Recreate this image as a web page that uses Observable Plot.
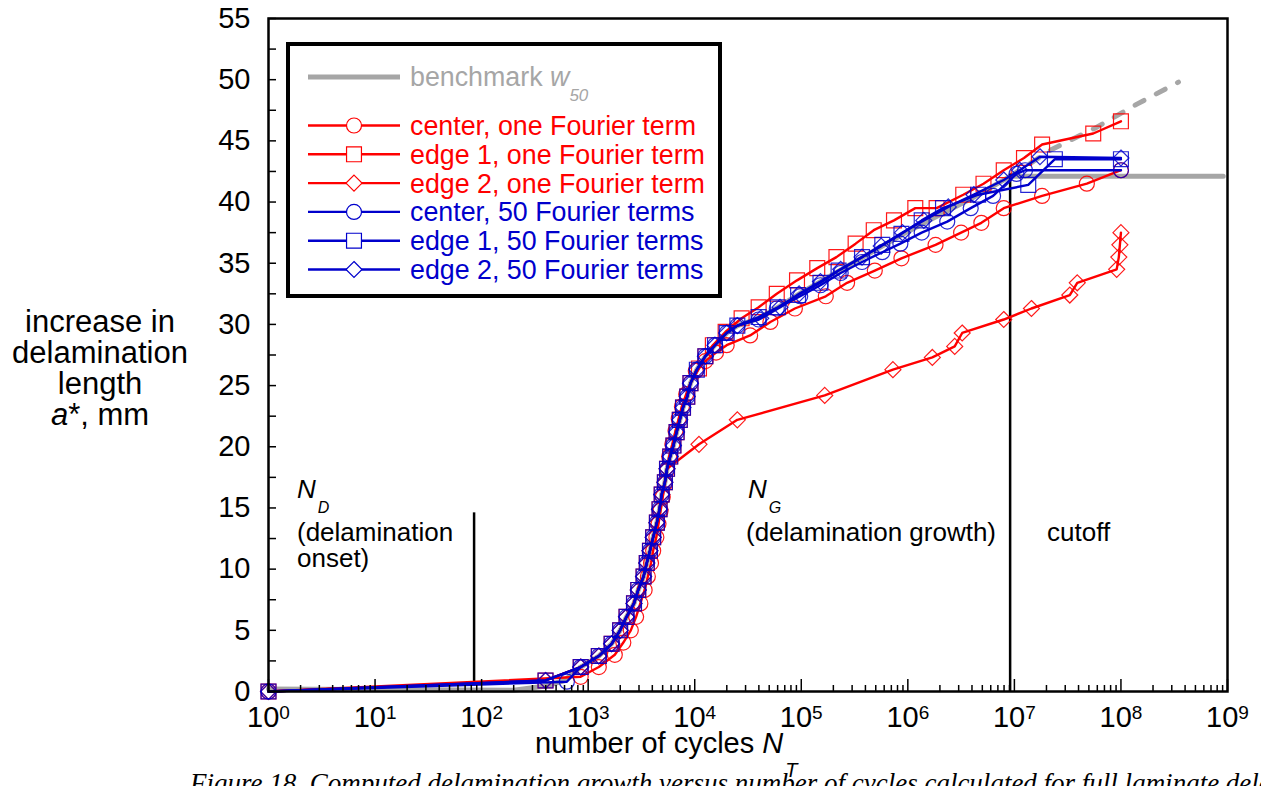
<!DOCTYPE html>
<html><head><meta charset="utf-8">
<script src="https://cdn.jsdelivr.net/npm/d3@7"></script>
<script src="https://cdn.jsdelivr.net/npm/@observablehq/plot@0.6"></script>
<style>
html,body{margin:0;padding:0;background:#fff;}
#chart{position:relative;width:1261px;height:786px;overflow:hidden;background:#fff;}
</style></head><body><div id="chart"></div>
<script>
// ---------- data (number of cycles N, increase in delamination length a*, mm) ----------
// common steep part of the curves
const steepN = [1, 398, 851, 1259, 1660, 1995, 2291, 2692, 2951, 3311, 3548, 3802, 4074, 4416, 4677, 4898, 5248, 5495, 5888, 6310, 6761, 7244, 7762, 8511, 9120, 10470, 12589, 15488, 19953, 25119];
const steepA = [0, 0.9, 2.0, 2.9, 3.9, 5.0, 6.1, 7.2, 8.3, 9.4, 10.5, 11.5, 12.6, 13.8, 14.9, 16.1, 17.1, 18.2, 19.2, 20.1, 21.2, 22.2, 23.2, 24.1, 25.2, 26.3, 27.4, 28.3, 29.3, 29.9];

// benchmark w50
const benchN = [1, 200, 400, 600, 851, 1259, 1660, 1995, 2291, 2692, 2951, 3311, 3548, 3802, 4074, 4416, 4677, 4898, 5248, 5495, 5888, 6310, 6761, 7244, 7762, 8511, 9120, 10470, 12589, 15488, 19953, 25119, 39811, 63096, 100000, 158489, 251189, 398107, 630957, 1000000, 1584893, 2511886, 3981072, 6309573, 9120108, 912010839];
const benchA = [0.2, 0.1, 0.45, 0.9, 2.0, 2.9, 3.9, 5.0, 6.1, 7.2, 8.3, 9.4, 10.5, 11.5, 12.6, 13.8, 14.9, 16.1, 17.1, 18.2, 19.2, 20.1, 21.2, 22.2, 23.2, 24.1, 25.2, 26.3, 27.4, 28.3, 29.3, 29.9, 30.5, 31.5, 32.6, 33.6, 34.6, 35.6, 36.6, 37.6, 38.5, 39.4, 40.3, 41.3, 42.1, 42.1];
const benchDashN = [9120108, 22387211, 58884366, 141253754, 346736850];
const benchDashA = [42.1, 44.3, 46.1, 48.0, 49.8];

// center, one Fourier term
const centerOneN = [1, 851, 1259, 1778, 2138, 2512, 2818, 3090, 3388, 3631, 3890, 4074, 4365, 4571, 4786, 5012, 5248, 5495, 5754, 6166, 6607, 7079, 7586, 8318, 9120, 10233, 12589, 15849, 19953, 33113, 51286, 87096, 169824, 269153, 489779, 870964, 1819701, 3162278, 4897788, 7943282, 18197009, 47863009, 100000000];
const centerOneA = [0, 1.2, 2.0, 3.0, 4.0, 5.0, 6.1, 7.2, 8.3, 9.4, 10.5, 11.5, 12.6, 13.7, 14.8, 15.9, 17.0, 18.1, 19.2, 20.2, 21.3, 22.3, 23.3, 24.3, 25.2, 26.2, 27.0, 27.7, 28.3, 29.1, 30.2, 31.3, 32.3, 33.4, 34.4, 35.4, 36.5, 37.5, 38.3, 39.5, 40.5, 41.5, 42.6];

// edge 1, one Fourier term (after the steep part)
const edge1OneN = [10965, 12589, 14791, 19498, 27542, 39811, 58884, 91201, 141254, 213796, 323594, 478630, 741310, 1174898, 1862087, 3311311, 5128614, 7943282, 12302688, 18197009, 54954087, 100000000];
const edge1OneA = [26.4, 27.4, 28.3, 29.4, 30.5, 31.4, 32.5, 33.6, 34.6, 35.5, 36.6, 37.7, 38.5, 39.5, 39.5, 40.6, 41.5, 42.6, 43.6, 44.7, 45.6, 46.6];

// edge 2, one Fourier term (after the steep part)
const edge2OneN = [10965, 25119, 165959, 724436, 1698244, 2754229, 3235937, 7943282, 14454398, 33113112, 38904514, 91201084, 95499259, 97723722, 100000000];
const edge2OneA = [20.2, 22.2, 24.2, 26.3, 27.3, 28.2, 29.3, 30.4, 31.3, 32.4, 33.4, 34.5, 35.5, 36.5, 37.5];

// center, 50 Fourier terms
const center50N = [1, 631, 851, 1259, 1660, 1995, 2291, 2692, 2951, 3311, 3548, 3802, 4074, 4416, 4677, 4898, 5248, 5495, 5888, 6310, 6761, 7244, 7762, 8511, 9120, 10470, 12589, 15488, 19953, 25119, 39811, 58884, 97724, 151356, 234423, 371535, 575440, 851138, 1348963, 2344229, 3890451, 6309573, 10471285, 12589254, 100000000];
const center50A = [0, 0.8, 2.0, 2.9, 3.9, 5.0, 6.1, 7.2, 8.3, 9.4, 10.5, 11.5, 12.6, 13.8, 14.9, 16.1, 17.1, 18.2, 19.2, 20.1, 21.2, 22.2, 23.2, 24.1, 25.2, 26.3, 27.4, 28.3, 29.3, 29.9, 30.4, 31.3, 32.3, 33.2, 34.2, 35.1, 35.9, 36.6, 37.5, 38.4, 39.5, 40.5, 42.3, 42.6, 42.6];

// edge 1, 50 Fourier terms (after the steep part)
const edge150N = [39811, 60256, 93325, 151356, 223872, 371535, 575440, 870964, 1348963, 2137962, 4570882, 13489629, 23988329, 100000000];
const edge150A = [30.6, 31.4, 32.4, 33.4, 34.4, 35.5, 36.5, 37.4, 38.5, 39.5, 40.6, 41.4, 43.5, 43.5];

// edge 2, 50 Fourier terms (after the steep part)
const edge250N = [41687, 63096, 95499, 151356, 234423, 371535, 562341, 891251, 1412538, 2398833, 4168694, 7943282, 11220185, 17378008, 100000000];
const edge250A = [30.5, 31.4, 32.5, 33.5, 34.5, 35.5, 36.4, 37.5, 38.5, 39.6, 40.6, 41.8, 42.6, 43.7, 43.6];

// annotation rules (N_D onset and cutoff)
const ruleN = [85, 9120108];
const ruleA1 = [0.6, 0];
const ruleA2 = [14.6, 42.3];

// ticks
const xMajor = [1, 10, 100, 1e3, 1e4, 1e5, 1e6, 1e7, 1e8, 1e9];
const yMajor = [0, 5, 10, 15, 20, 25, 30, 35, 40, 45, 50, 55];
const yMinor = [2.5, 7.5, 12.5, 17.5, 22.5, 27.5, 32.5, 37.5, 42.5, 47.5, 52.5];
const xMinor = [];
for (let e = 0; e < 9; e++) for (let m = 2; m <= 9; m++) xMinor.push(m * Math.pow(10, e));

// ---------- build ----------
const RED = "#ff0000", BLUE = "#0000cc", GREY = "#a6a6a6";
const rows = (Ns, As) => Ns.map((N, i) => ({N, a: As[i]}));
const benchmark = rows(benchN, benchA);
const benchmarkDash = rows(benchDashN, benchDashA);
const rules = ruleN.map((N, i) => ({N, a1: ruleA1[i], a2: ruleA2[i]}));

const series = [
  {label: "center, one Fourier term", color: RED, symbol: "circle", r: 7.5, data: rows(centerOneN, centerOneA)},
  {label: "edge 1, one Fourier term", color: RED, symbol: "square", r: 8.4, data: rows(steepN.slice(0, 25).concat(edge1OneN), steepA.slice(0, 25).concat(edge1OneA))},
  {label: "edge 2, one Fourier term", color: RED, symbol: "diamond2", r: 7.2, data: rows(steepN.slice(0, 18).concat(edge2OneN), steepA.slice(0, 18).concat(edge2OneA))},
  {label: "center, 50 Fourier terms", color: BLUE, symbol: "circle", r: 7.5, data: rows(center50N, center50A)},
  {label: "edge 1, 50 Fourier terms", color: BLUE, symbol: "square", r: 8.4, data: rows(steepN.concat(edge150N), steepA.concat(edge150A))},
  {label: "edge 2, 50 Fourier terms", color: BLUE, symbol: "diamond2", r: 7.2, data: rows(steepN.concat(edge250N), steepA.concat(edge250A))}
];

const seriesMarks = [];
for (const s of series) {
  seriesMarks.push(Plot.line(s.data, {x: "N", y: "a", stroke: s.color, strokeWidth: 2.4, strokeLinejoin: "round"}));
  seriesMarks.push(Plot.dot(s.data, {x: "N", y: "a", symbol: s.symbol, r: s.r, stroke: s.color, strokeWidth: 1.2, strokeOpacity: s.color === BLUE ? 0.85 : 0.9, fill: "none"}));
}

const FONT = "'Liberation Sans', Arial, Helvetica, sans-serif";
const svg = Plot.plot({
  width: 1261, height: 786,
  marginLeft: 268, marginRight: 34, marginTop: 18, marginBottom: 95,
  style: {fontFamily: FONT, fontSize: "26px", color: "black", background: "white"},
  x: {type: "log", domain: [1, 1e9]},
  y: {domain: [0, 55]},
  marks: [
    Plot.line(benchmark, {x: "N", y: "a", stroke: GREY, strokeWidth: 5}),
    Plot.line(benchmarkDash, {x: "N", y: "a", stroke: GREY, strokeWidth: 5, strokeDasharray: "10,14", strokeLinecap: "round"}),
    Plot.ruleX(rules, {x: "N", y1: "a1", y2: "a2", stroke: "black", strokeWidth: 2.5}),
    ...seriesMarks,
    Plot.axisX(xMajor, {anchor: "bottom", tickSize: 12, tickPadding: 3, fontSize: 29, strokeWidth: 1.5, label: null,
      tickFormat: d => "10^" + Math.round(Math.log10(d))}),
    Plot.axisX(xMinor, {anchor: "bottom", tickSize: 6, strokeWidth: 1.5, label: null, tickFormat: () => ""}),
    Plot.axisY(yMajor, {anchor: "left", tickSize: 8, tickPadding: 10, fontSize: 29, strokeWidth: 1.5, label: null}),
    Plot.axisY(yMinor, {anchor: "left", tickSize: 8, strokeWidth: 1.5, label: null, tickFormat: () => ""}),
    Plot.frame({stroke: "black", strokeWidth: 2.5})
  ]
});
document.getElementById("chart").appendChild(svg);

const S = d3.select(svg);
// ticks point inward
S.selectAll('g[aria-label="x-axis tick"] path').attr("d", function () {
  return this.getAttribute("d").replace(/L0,([\d.]+)/, "L0,-$1");
});
S.selectAll('g[aria-label="y-axis tick"] path').attr("d", function () {
  return this.getAttribute("d").replace(/L-([\d.]+),0/, "L$1,0");
});
// superscript exponents
S.selectAll('g[aria-label="x-axis tick label"] text').each(function () {
  const t = this.textContent;
  if (!t.startsWith("10^")) return;
  const exp = t.slice(3);
  const el = d3.select(this);
  el.text("");
  el.append("tspan").text("10");
  el.append("tspan").attr("dy", "-0.42em").attr("font-size", "19px").text(exp);
});

// text helper
function txt(g, x, y, parts, opts = {}) {
  const t = g.append("text").attr("x", x).attr("y", y)
    .attr("font-family", opts.family || FONT).attr("font-size", opts.size || 26)
    .attr("fill", opts.fill || "black").attr("text-anchor", opts.anchor || "start");
  if (opts.italic) t.attr("font-style", "italic");
  for (const p of parts) {
    const s = t.append("tspan").text(p.t);
    if (p.italic) s.attr("font-style", "italic");
    if (p.size) s.attr("font-size", p.size);
    if (p.dy) s.attr("dy", p.dy);
    if (p.dx) s.attr("dx", p.dx);
  }
  return t;
}

const A = S.append("g");
// y-axis title
txt(A, 100, 332, [{t: "increase in"}], {size: 31, anchor: "middle"});
txt(A, 100, 363, [{t: "delamination"}], {size: 31, anchor: "middle"});
txt(A, 100, 394, [{t: "length"}], {size: 31, anchor: "middle"});
txt(A, 100, 425, [{t: "a", italic: true}, {t: "*, mm"}], {size: 31, anchor: "middle"});
// x-axis title
txt(A, 535, 753, [{t: "number of cycles "}, {t: "N", italic: true}, {t: "T", italic: true, size: 20, dy: 24, dx: 2}], {size: 29});

// annotations
txt(A, 297, 498, [{t: "N", italic: true}, {t: "D", italic: true, size: 16, dy: 15, dx: 2}], {size: 26});
txt(A, 297, 541, [{t: "(delamination"}]);
txt(A, 297, 567, [{t: "onset)"}]);
txt(A, 748, 498, [{t: "N", italic: true}, {t: "G", italic: true, size: 16, dy: 15, dx: 2}], {size: 26});
txt(A, 746, 541, [{t: "(delamination growth)"}]);
txt(A, 1047, 541, [{t: "cutoff"}]);

// caption (cut off at the bottom, as in the source)
txt(A, 190, 792, [{t: "Figure 18. Computed delamination growth versus number of cycles calculated for full laminate delamination model and"}],
  {size: 27, italic: true, family: "'Liberation Serif', 'Times New Roman', serif"});

// legend
const L = S.append("g");
L.append("rect").attr("x", 288).attr("y", 44).attr("width", 432).attr("height", 252)
  .attr("fill", "white").attr("stroke", "black").attr("stroke-width", 4);
L.append("line").attr("x1", 308).attr("x2", 400).attr("y1", 77).attr("y2", 77).attr("stroke", GREY).attr("stroke-width", 5);
txt(L, 410, 86, [{t: "benchmark "}, {t: "w", italic: true}, {t: "50", italic: true, size: 17, dy: 15}], {size: 26.8, fill: GREY});
const symType = {circle: d3.symbolCircle, square: d3.symbolSquare, diamond2: d3.symbolDiamond2};
series.forEach((s, i) => {
  const y = 125.5 + i * 28.8;
  L.append("line").attr("x1", 308).attr("x2", 400).attr("y1", y).attr("y2", y).attr("stroke", s.color).attr("stroke-width", 2.4);
  L.append("path").attr("d", d3.symbol(symType[s.symbol], Math.PI * s.r * s.r)())
    .attr("transform", `translate(354,${y})`).attr("fill", "white").attr("stroke", s.color).attr("stroke-width", 1.2);
  txt(L, 410, y + 9.5, [{t: s.label}], {size: 26.8, fill: s.color});
});
</script></body></html>
